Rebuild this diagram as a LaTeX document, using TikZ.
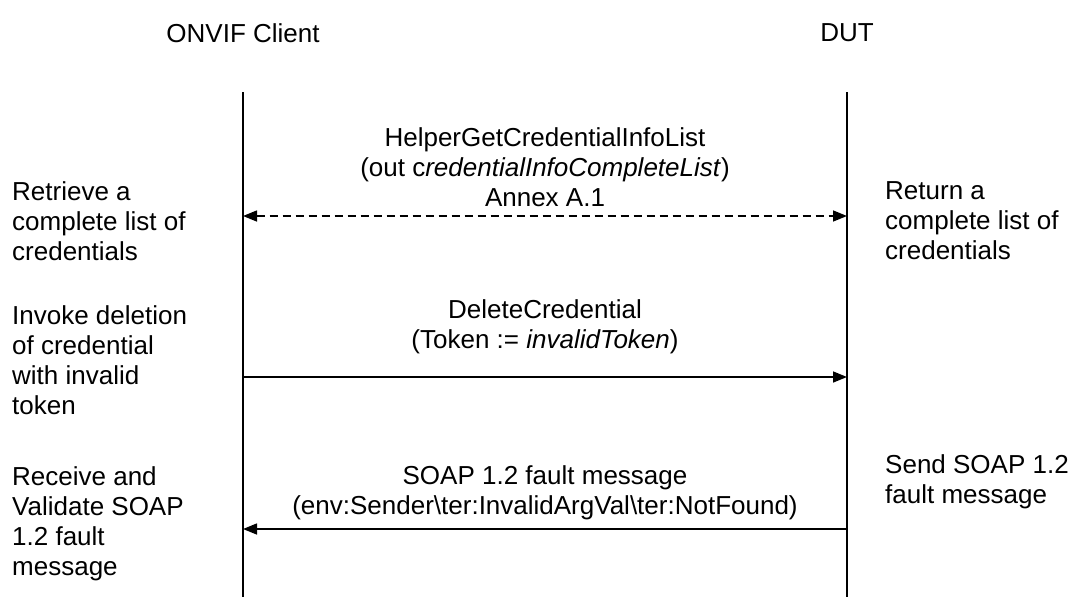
\documentclass[tikz,border=0pt]{standalone}
\usepackage{fontspec}
\setmainfont{Liberation Sans}
\usetikzlibrary{arrows.meta,positioning}

\begin{document}
\begin{tikzpicture}[
  x=1pt, y=-1pt,
  >={Triangle[length=14pt,width=11pt]},
  txt/.style={font=\fontsize{26}{30}\selectfont, inner sep=0pt},
  msg/.style={txt, align=center, anchor=north},
  note/.style={txt, align=left, anchor=north west},
  life/.style={line width=1.8pt},
  arrow/.style={->, line width=1.5pt}
]
\useasboundingbox (0,0) rectangle (1076,597);

% actors and lifelines
\node[txt] (client) at (243,33) {ONVIF Client};
\node[txt] (dut) at (847,33) {DUT};
\coordinate (cTop) at (243,92);
\coordinate (cBot) at (243,597);
\coordinate (dTop) at (847,92);
\coordinate (dBot) at (847,597);
\draw[life] (cTop) -- (cBot);
\draw[life] (dTop) -- (dBot);

% step 1
\coordinate (c1) at (243,216);
\coordinate (d1) at (847,216);
\draw[arrow, <->, dash pattern=on 8pt off 5pt] (c1) -- (d1);
\node[msg] (m1) at (545,127) {HelperGetCredentialInfoList\\(out c\textit{redentialInfoCompleteList})\\Annex A.1};
\node[note] (retrieve) at (12,181) {Retrieve a\\complete list of\\credentials};
\node[note] (return) at (885,181) {Return a\\complete list of\\credentials};

% step 2
\coordinate (c2) at (243,377);
\coordinate (d2) at (847,377);
\draw[arrow] (c2) -- (d2);
\node[msg] (m2) at (545,299) {DeleteCredential\\(Token := \textit{invalidToken})};
\node[note] (invoke) at (12,305) {Invoke deletion\\of credential\\with invalid\\token};

% step 3
\coordinate (c3) at (243,529);
\coordinate (d3) at (847,529);
\draw[arrow] (d3) -- (c3);
\node[msg] (m3) at (545,465) {SOAP 1.2 fault message\\(env:Sender\textbackslash ter:InvalidArgVal\textbackslash ter:NotFound)};
\node[note] (receive) at (12,466) {Receive and\\Validate SOAP\\1.2 fault\\message};
\node[note] (send) at (885,454) {Send SOAP 1.2\\fault message};
\end{tikzpicture}
\end{document}
